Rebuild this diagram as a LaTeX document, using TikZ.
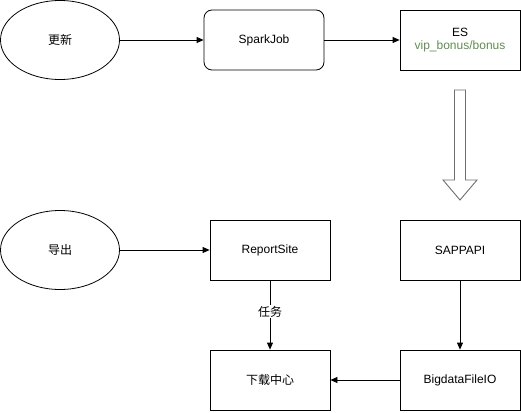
\documentclass[tikz,border=0pt]{standalone}
\usepackage{fontspec}
\setmainfont{Liberation Sans}
\newfontfamily\cjk{Noto Sans CJK SC}
\usetikzlibrary{arrows.meta,shapes.geometric}
\definecolor{esgreen}{RGB}{96,140,80}
\definecolor{bigarrow}{RGB}{110,110,110}
\tikzset{
  proc/.style={draw, minimum width=120pt, minimum height=60pt, inner sep=0pt, font=\fontsize{12pt}{14pt}\selectfont},
  term/.style={draw, ellipse, minimum width=119pt, minimum height=79pt, inner sep=0pt, font=\fontsize{12pt}{14pt}\selectfont},
  flow/.style={-{Triangle[length=7pt,width=6pt]}, line width=0.8pt}
}
\begin{document}
\begin{tikzpicture}[x=1pt, y=-1pt, line width=0.8pt]
  \useasboundingbox (0,0) rectangle (521,412);

  % upper row
  \node[term] (upd) at (60, 40) {\cjk 更新};
  \node[proc, rounded corners=8pt] (spark) at (264, 40) {SparkJob};
  \node[proc, align=center] (es) at (460, 40) {ES\\[-1pt]\textcolor{esgreen}{vip\_bonus/bonus}};

  \draw[flow] (upd) -- (spark);
  \draw[flow] (spark) -- (es);

  % big hollow arrow
  \draw[bigarrow, fill=white, line width=0.9pt]
    (454.5, 90) -- (465.5, 90) -- (465.5, 180) -- (477, 180) -- (460, 200)
    -- (443, 180) -- (454.5, 180) -- cycle;

  % lower rows
  \node[term] (exp) at (60, 250) {\cjk 导出};
  \node[proc] (rep) at (270, 250) {ReportSite};
  \node[proc] (sap) at (460, 250) {SAPPAPI};
  \node[proc] (dl) at (270, 380) {\cjk 下载中心};
  \node[proc] (bfio) at (460, 380) {BigdataFileIO};

  \draw[flow] (exp) -- (rep);
  \draw[flow] (rep) -- node[fill=white, inner sep=1pt, pos=0.45, font=\fontsize{12pt}{14pt}\selectfont]{\cjk 任务} (dl);
  \draw[flow] (sap) -- (bfio);
  \draw[flow] (bfio) -- (dl);
\end{tikzpicture}
\end{document}
